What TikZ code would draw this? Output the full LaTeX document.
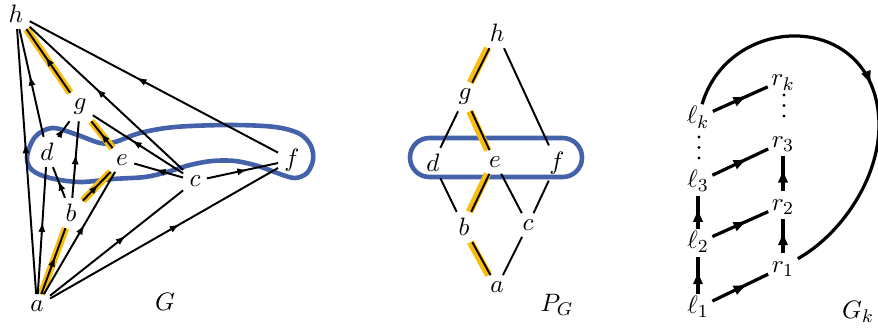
\documentclass[tikz,border=0pt]{standalone}
\usetikzlibrary{arrows.meta,decorations.markings}
\definecolor{hlyellow}{RGB}{250,190,10}
\definecolor{setblue}{RGB}{68,98,170}
\begin{document}
\begin{tikzpicture}[x=0.435pt,y=-0.435pt,
  every node/.style={font=\fontsize{11}{13}\selectfont},
  lbl/.style={inner sep=2.6pt},
  klbl/.style={inner sep=1.4pt,text height=7pt,text depth=1.8pt},
  kdot/.style={circle,fill=black,inner sep=0pt,minimum size=1.5pt},
  edge/.style={line width=0.85pt},
  midarrow/.style={line width=0.85pt,postaction={decorate,decoration={markings,mark=at position #1 with {\arrow{Latex[length=4.4pt,width=3.1pt]}}}}},
  midarrow/.default=0.57,
  hl/.style={line width=3.2pt,draw=hlyellow},
  setline/.style={line width=2pt,draw=setblue},
  kedge/.style={line width=1.4pt,postaction={decorate,decoration={markings,mark=at position #1 with {\arrow{Latex[length=6.4pt,width=4.6pt]}}}}},
  kedge/.default=0.64,
]
\useasboundingbox (0,0) rectangle (878,329);

% ---------------- G ----------------
\node[lbl] (Gh) at (16,14) {$h$};
\node[lbl] (Gg) at (80,107) {$g$};
\node[lbl] (Gd) at (47,152) {$d$};
\node[lbl] (Ge) at (122,160) {$e$};
\node[lbl] (Gc) at (195,181) {$c$};
\node[lbl] (Gf) at (292,160) {$f$};
\node[lbl] (Gb) at (71,213) {$b$};
\node[lbl] (Ga) at (37,306) {$a$};
\node (Glab) at (165,302) {$G$};

\draw[setline] plot[smooth cycle, tension=0.55] coordinates {
 (27,157) (35,137) (52,128) (75,134) (100,143) (115,142) (140,133) (175,127)
 (230,125) (275,127) (300,134) (311,146) (313,160) (307,173) (295,178) (280,174)
 (258,166) (235,161) (212,161) (190,165) (167,172) (145,177) (113,179)
 (80,182) (50,178) (32,170)};

\draw[hl] (Ga) -- (Gb);
\draw[hl] (Gb) -- (Ge);
\draw[hl] (Ge) -- (Gg);
\draw[hl] (Gg) -- (Gh);

\draw[midarrow] (Ga) -- (Gh);
\draw[midarrow] (Ga) -- (Gd);
\draw[midarrow] (Gd) -- (Gh);
\draw[midarrow] (Ga) -- (Gb);
\draw[midarrow] (Gb) -- (Gd);
\draw[midarrow] (Gb) -- (Gg);
\draw[midarrow] (Gd) -- (Gg);
\draw[midarrow] (Ga) -- (Ge);
\draw[midarrow] (Gb) -- (Ge);
\draw[midarrow] (Ge) -- (Gg);
\draw[midarrow] (Gg) -- (Gh);
\draw[midarrow] (Gc) -- (Ge);
\draw[midarrow] (Gc) -- (Gg);
\draw[midarrow] (Gc) -- (Gh);
\draw[midarrow] (Gf) -- (Gh);
\draw[midarrow] (Gc) -- (Gf);
\draw[midarrow] (Ga) -- (Gc);
\draw[midarrow] (Ga) -- (Gf);

% ---------------- P_G ----------------
\node[lbl] (Ph) at (497,33) {$h$};
\node[lbl] (Pg) at (465,97) {$g$};
\node[lbl] (Pd) at (433,163) {$d$};
\node[lbl] (Pe) at (495,162) {$e$};
\node[lbl] (Pf) at (557,163) {$f$};
\node[lbl] (Pb) at (464,227) {$b$};
\node[lbl] (Pc) at (528,225) {$c$};
\node[lbl] (Pa) at (497,287) {$a$};
\node (Plab) at (557,305) {$P_G$};

\draw[setline,rounded corners=8.4pt] (410,138) rectangle (582,177);

\begin{scope}[transform canvas={xshift=-0.8pt}]
\draw[hl] (Pa) -- (Pb);
\draw[hl] (Pb) -- (Pe);
\draw[hl] (Pe) -- (Pg);
\draw[hl] (Pg) -- (Ph);
\end{scope}

\draw[edge] (Pa) -- (Pb);
\draw[edge] (Pa) -- (Pc);
\draw[edge] (Pb) -- (Pd);
\draw[edge] (Pb) -- (Pe);
\draw[edge] (Pc) -- (Pe);
\draw[edge] (Pc) -- (Pf);
\draw[edge] (Pd) -- (Pg);
\draw[edge] (Pe) -- (Pg);
\draw[edge] (Pg) -- (Ph);
\draw[edge] (Ph) -- (Pf);

% ---------------- G_k ----------------
\node[klbl] (l1) at (698,308) {$\ell_1$};
\node[klbl] (r1) at (783,267) {$r_1$};
\node[klbl] (l2) at (698,243) {$\ell_2$};
\node[klbl] (r2) at (783,205) {$r_2$};
\node[klbl] (l3) at (698,182) {$\ell_3$};
\node[klbl] (r3) at (783,142) {$r_3$};
\node[klbl] (lk) at (698,118) {$\ell_k$};
\node[klbl] (rk) at (783,80) {$r_k$};
\node[kdot] (dl1) at (699,137) {};
\node[kdot] (dl2) at (699,147.5) {};
\node[kdot] (dl3) at (699,158) {};
\node[kdot] (dr1) at (784,95) {};
\node[kdot] (dr2) at (784,105.5) {};
\node[kdot] (dr3) at (784,116) {};
\node (Klab) at (858,312) {$G_k$};
\coordinate (kturn) at (879,125);

\draw[kedge] (l1) -- (r1);
\draw[kedge] (l2) -- (r2);
\draw[kedge] (l3) -- (r3);
\draw[kedge] (lk) -- (rk);
\draw[kedge=0.66] (l1) -- (l2);
\draw[kedge=0.66] (l2) -- (l3);
\draw[kedge=0.66] (r1) -- (r2);
\draw[kedge=0.66] (r2) -- (r3);
\draw[kedge=0.52] (lk) .. controls (730,10) and (878,10) .. (kturn)
   .. controls (879,180) and (840,235) .. (r1);
\end{tikzpicture}
\end{document}
